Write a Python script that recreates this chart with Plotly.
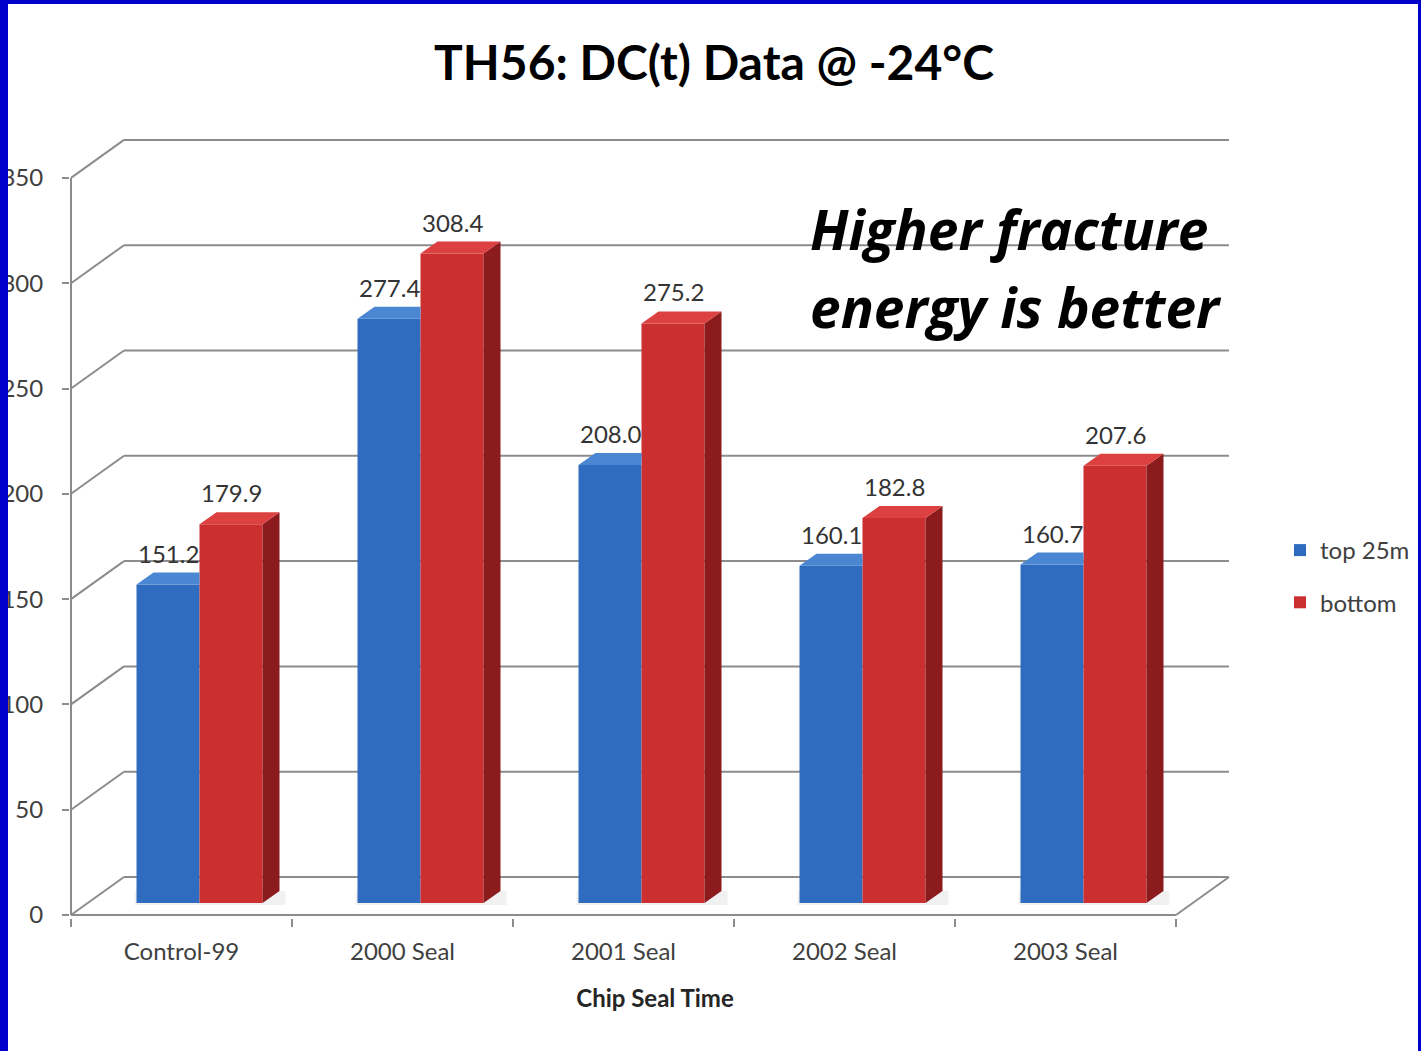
import plotly.graph_objects as go

# ---------------- data ----------------
categories = ["Control-99", "2000 Seal", "2001 Seal", "2002 Seal", "2003 Seal"]
series_names = ["top 25m", "bottom"]          # as visible (cut by the slide border)
top_25mm = [151.2, 277.4, 208.0, 160.1, 160.7]
bottom_25mm = [179.9, 308.4, 275.2, 182.8, 207.6]
y_ticks = [0, 50, 100, 150, 200, 250, 300, 350]

# ---------------- geometry / style constants ----------------
W, H = 1421, 1051
PL, PR, PT, PB = 70, 1240, 120, 918      # plot area in px
UX = 221.0                               # px per category unit
UY = 2.106                               # px per value unit
X0PX, Y0PX = 71, 915                     # px of the front origin
WALL_DX, WALL_DY = 53 / UX, 38 / UY      # depth offset of back wall
BAR_DX, BAR_DY = 18 / UX, 12 / UY        # depth offset of bar fronts
DEP_DX, DEP_DY = 17 / UX, 12 / UY        # depth of a bar
BW = 63 / UX                             # bar width

FONT = "Lato"
GRID = "#8c8c8c"
TXT = "#404040"
BLUE_FRONT, BLUE_TOP = "#2f6cbf", "#4a86d2"
RED_FRONT, RED_TOP, RED_SIDE = "#cc2f2f", "#dc4040", "#8c1b1e"
BORDER = "#0000cc"

n = len(categories)
xr = [(PL - X0PX) / UX, (PR - X0PX) / UX]
yr = [(Y0PX - PB) / UY, (Y0PX - PT) / UY]


def xp(px):
    return (px - PL) / (PR - PL)


def yp(py):
    return (PB - py) / (PB - PT)


fig = go.Figure()

# ---- back wall grid, floor and front axis line (below traces) ----
shapes = []
top_val = y_ticks[-1]
for t in y_ticks:
    shapes.append(dict(type="line", xref="x", yref="y", layer="below",
                       x0=WALL_DX, y0=t + WALL_DY, x1=n + WALL_DX, y1=t + WALL_DY,
                       line=dict(color=GRID, width=2)))
    shapes.append(dict(type="line", xref="x", yref="y", layer="below",
                       x0=0, y0=t, x1=WALL_DX, y1=t + WALL_DY,
                       line=dict(color=GRID, width=2)))
shapes.append(dict(type="line", xref="x", yref="y", layer="below",
                   x0=0, y0=0, x1=n, y1=0, line=dict(color=GRID, width=2)))
shapes.append(dict(type="line", xref="x", yref="y", layer="below",
                   x0=n, y0=0, x1=n + WALL_DX, y1=WALL_DY, line=dict(color=GRID, width=2)))
shapes.append(dict(type="line", xref="x", yref="y", layer="below",
                   x0=0, y0=0, x1=0, y1=top_val, line=dict(color=GRID, width=2)))

# ---- soft floor shadows behind each bar pair ----
centers = [i + 0.5 + BAR_DX for i in range(n)]
for c in centers:
    shapes.append(dict(type="rect", xref="x", yref="y", layer="below",
                       x0=c - BW - 2 / UX, x1=c + BW + DEP_DX + 6 / UX,
                       y0=BAR_DY - 2 / UY, y1=BAR_DY + DEP_DY,
                       fillcolor="rgba(120,120,120,0.10)", line=dict(width=0)))

# ---- bar front faces ----
blue_x = [c - BW / 2 for c in centers]
red_x = [c + BW / 2 for c in centers]

fig.add_trace(go.Bar(x=blue_x, y=top_25mm, base=BAR_DY, width=BW, name=series_names[0],
                     marker=dict(color=BLUE_FRONT, line=dict(width=0)),
                     legendgroup="a", hoverinfo="skip"))
fig.add_trace(go.Bar(x=red_x, y=bottom_25mm, base=BAR_DY, width=BW, name=series_names[1],
                     marker=dict(color=RED_FRONT, line=dict(width=0)),
                     legendgroup="b", hoverinfo="skip"))

# ---- 3D faces computed from the values ----
bt_x, bt_y = [], []
for c, v in zip(centers, top_25mm):
    x0, x1, yv = c - BW, c, v + BAR_DY
    bt_x += [x0, x1, x1, x0 + DEP_DX, x0, None]
    bt_y += [yv, yv, yv + DEP_DY, yv + DEP_DY, yv, None]
rt_x, rt_y, rs_x, rs_y = [], [], [], []
for c, v in zip(centers, bottom_25mm):
    x0, x1, yv = c, c + BW, v + BAR_DY
    rt_x += [x0, x1, x1 + DEP_DX, x0 + DEP_DX, x0, None]
    rt_y += [yv, yv, yv + DEP_DY, yv + DEP_DY, yv, None]
    rs_x += [x1, x1, x1 + DEP_DX, x1 + DEP_DX, x1, None]
    rs_y += [BAR_DY, yv, yv + DEP_DY, BAR_DY + DEP_DY, BAR_DY, None]

for xs, ys, col in [(bt_x, bt_y, BLUE_TOP), (rs_x, rs_y, RED_SIDE), (rt_x, rt_y, RED_TOP)]:
    fig.add_trace(go.Scatter(x=xs, y=ys, mode="lines", fill="toself", fillcolor=col,
                             line=dict(width=0, color=col), showlegend=False,
                             hoverinfo="skip"))

# ---- annotations ----
ann = []
for c, v in zip(centers, top_25mm):
    ann.append(dict(x=c - BW / 2, y=v + BAR_DY, xref="x", yref="y", text=f"{v:.1f}",
                    showarrow=False, yanchor="bottom", yshift=15,
                    font=dict(family=FONT, size=24, color="#333333")))
for c, v in zip(centers, bottom_25mm):
    ann.append(dict(x=c + BW / 2, y=v + BAR_DY, xref="x", yref="y", text=f"{v:.1f}",
                    showarrow=False, yanchor="bottom", yshift=15,
                    font=dict(family=FONT, size=24, color="#333333")))
ann.append(dict(x=xp(808), y=yp(229), xref="paper", yref="paper", xanchor="left",
                yanchor="middle", showarrow=False, text="<b><i>Higher fracture</i></b>",
                font=dict(family="Open Sans", size=55, color="black")))
ann.append(dict(x=xp(808), y=yp(306), xref="paper", yref="paper", xanchor="left",
                yanchor="middle", showarrow=False, text="<b><i>energy is better</i></b>",
                font=dict(family="Open Sans", size=55, color="black")))

# ---- slide border (above) ----
for (a, b, c2, d) in [(-5, -5, 8, 1060), (-5, -5, 1426, 4), (1418, -5, 1426, 1060)]:
    shapes.append(dict(type="rect", xref="paper", yref="paper", layer="above",
                       x0=xp(a), x1=xp(c2), y0=yp(d), y1=yp(b),
                       fillcolor=BORDER, line=dict(width=0)))

fig.update_layout(
    width=W, height=H,
    margin=dict(l=PL, r=W - PR, t=PT, b=H - PB, autoexpand=False),
    paper_bgcolor="white", plot_bgcolor="white",
    barmode="overlay",
    shapes=shapes, annotations=ann,
    title=dict(text="<b>TH56: DC(t) Data @ -24°C</b>", x=714 / W, y=1 - 63 / H,
               xref="container", yref="container", xanchor="center", yanchor="middle",
               font=dict(family=FONT, size=48, color="black")),
    xaxis=dict(range=xr, showgrid=False, zeroline=False, showline=False,
               tickmode="array", tickvals=[i + 0.5 for i in range(n)], ticktext=categories,
               ticks="", ticklabelstandoff=17,
               tickfont=dict(family=FONT, size=24, color=TXT),
               minor=dict(tickmode="array", tickvals=list(range(n + 1)), ticks="outside",
                          ticklen=8, tickcolor=GRID, tickwidth=2, showgrid=False),
               title=dict(text="<b>Chip Seal Time</b>", standoff=26,
                          font=dict(family=FONT, size=24, color="#262626"))),
    yaxis=dict(range=yr, showgrid=False, zeroline=False, showline=False,
               tickmode="array", tickvals=y_ticks, ticks="outside", ticklen=7,
               tickcolor=GRID, tickwidth=2, ticklabelstandoff=14,
               tickfont=dict(family=FONT, size=24, color=TXT)),
    legend=dict(x=xp(1280), y=yp(528), xanchor="left", yanchor="top",
                font=dict(family=FONT, size=24, color=TXT), tracegroupgap=18,
                bgcolor="rgba(0,0,0,0)"),
    showlegend=True,
)

fig.write_html("out.html", config={"displayModeBar": False},
               post_script="document.body.style.margin='0';document.body.style.overflow='hidden';")
